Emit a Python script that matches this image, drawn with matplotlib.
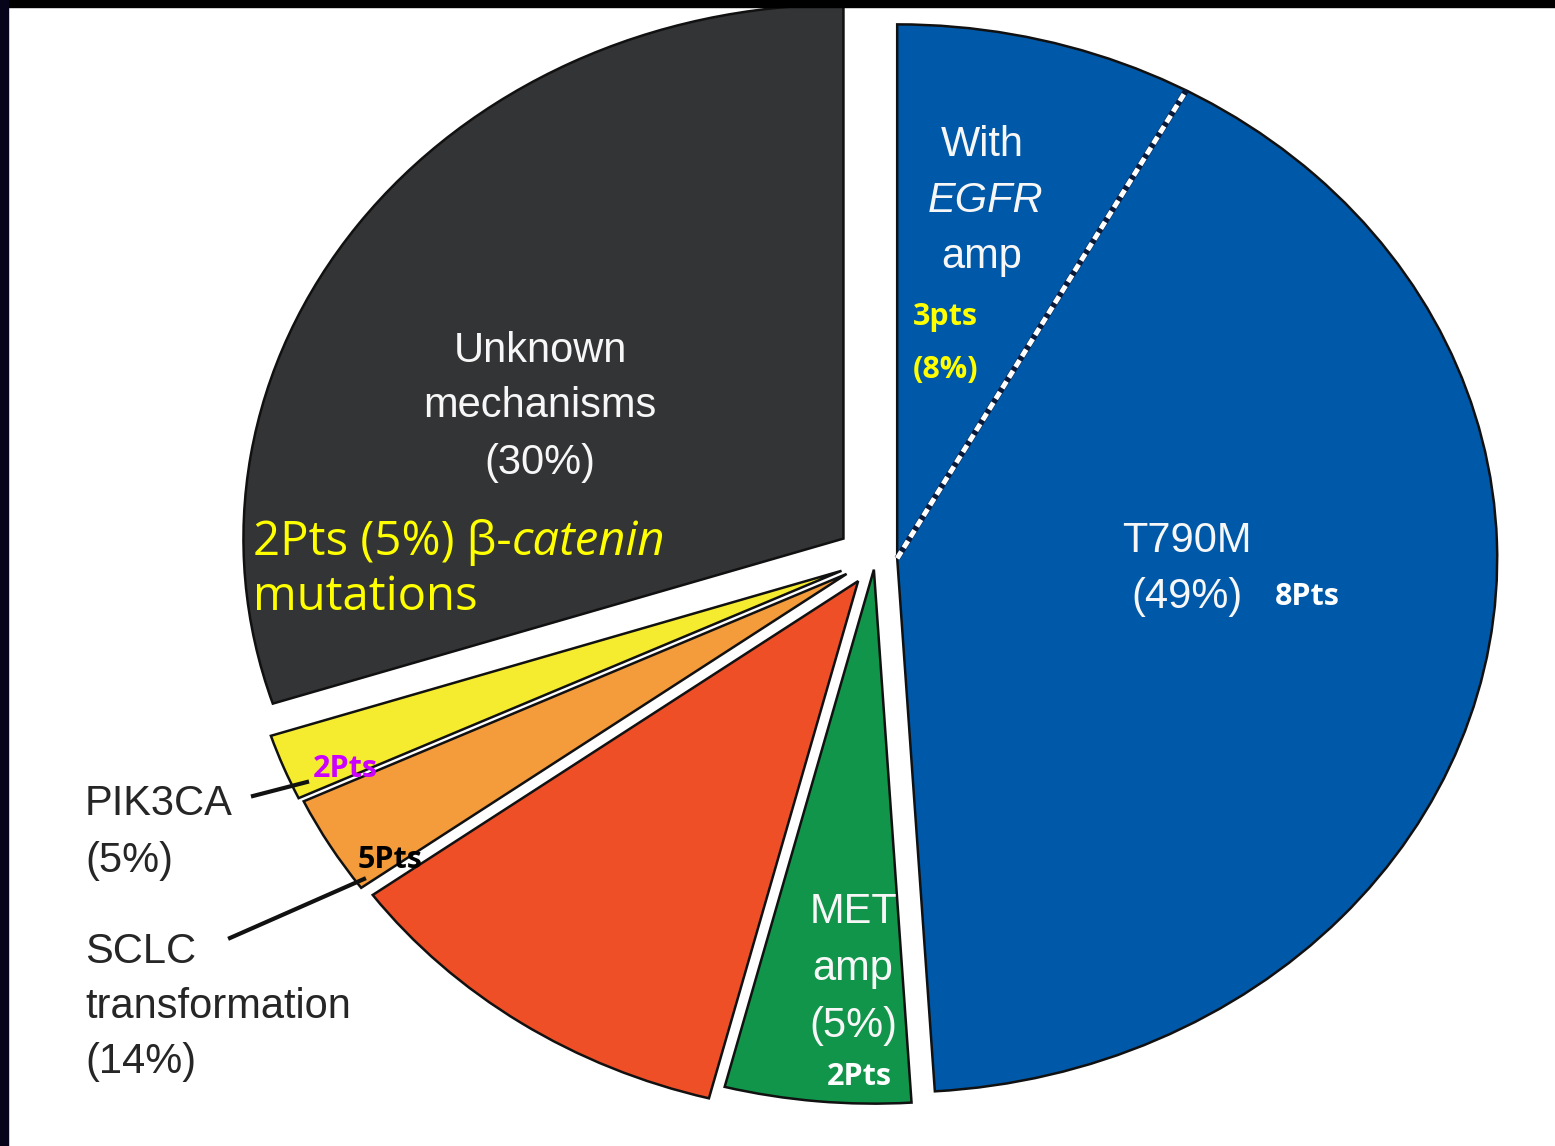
import matplotlib
matplotlib.use("Agg")
import matplotlib.pyplot as plt
from matplotlib.patches import Rectangle
from matplotlib.lines import Line2D
import numpy as np

# resistance mechanisms, % of patients (SCLC and PIK3CA overlap in 3%)
mechanisms = ["T790M", "MET amp", "SCLC transformation", "SCLC + PIK3CA",
              "PIK3CA", "Unknown mechanisms"]
shares = [49, 5, 11, 3, 2, 30]
egfr_amp_share = 8          # part of the T790M slice that also has EGFR amp
sclc_share = 14
pik3ca_share = 5
catenin_share = 5
patients = {"T790M": 8, "EGFR amp": 3, "MET amp": 2, "SCLC": 5,
            "PIK3CA": 2, "catenin": 2}

colors = ["#0058A8", "#10954A", "#EE4F27", "#F49B3B", "#F6EC2F", "#333436"]
explode = [0.037, 0.02, 0.05, 0.055, 0.06, 0.065]

W, H = 1555, 1146
cx, cy = 875, 559          # pie centre in pixels
rx, ry = 600, 534          # the pie is drawn slightly squashed

fig = plt.figure(figsize=(W / 100, H / 100), dpi=100)
fig.patch.set_facecolor("white")
ax = fig.add_axes([0, 0, 1, 1])

wedges, _ = ax.pie(shares, colors=colors, startangle=90, counterclock=False,
                   explode=explode, radius=1,
                   wedgeprops=dict(edgecolor="#111111", linewidth=1.8))
ax.set_aspect("auto")
ax.set_xlim(-cx / rx, (W - cx) / rx)
ax.set_ylim((cy - H) / ry, cy / ry)
ax.axis("off")

# dashed split inside the T790M slice for the EGFR amp cases
bx, by = wedges[0].center
ang = np.deg2rad(90 - 360 * egfr_amp_share / 100)
ax.plot([bx, bx + np.cos(ang)], [by, by + np.sin(ang)], color="#0a1a3a",
        lw=4.2, solid_capstyle="butt", zorder=3)
ax.plot([bx, bx + np.cos(ang)], [by, by + np.sin(ang)], color="white",
        lw=3.6, ls=(0, (1.6, 0.9)), zorder=4)


def at(x, y):
    return x / W, 1 - y / H


label_font = dict(family=["Liberation Sans", "DejaVu Sans"], fontsize=30)
pts_font = dict(family=["Open Sans", "DejaVu Sans"], fontsize=22,
                fontweight="bold")

# white labels inside the slices
for txt, x, y in [("Unknown", 540, 362), ("mechanisms", 540, 417),
                  ("(30%)", 540, 474),
                  ("T790M", 1187, 552), (f"({shares[0]}%)", 1187, 608),
                  ("MET", 853, 923), ("amp", 853, 980),
                  (f"({shares[1]}%)", 853, 1037),
                  ("With", 982, 156), ("amp", 982, 268)]:
    fig.text(*at(x, y), txt, ha="center", va="baseline", color="#F7F7F7",
             **label_font)
fig.text(*at(985, 212), "EGFR", ha="center", va="baseline", color="#F7F7F7",
         style="italic", **label_font)

# labels outside the pie
for txt, x, y in [("PIK3CA", 85, 815), (f"({pik3ca_share}%)", 85, 872),
                  ("SCLC", 85, 963), ("transformation", 85, 1018),
                  (f"({sclc_share}%)", 85, 1073)]:
    fig.text(*at(x, y), txt, ha="left", va="baseline", color="#262626",
             **label_font)

for (x0, y0), (x1, y1) in [((253, 796), (307, 782)), ((230, 938), (364, 879))]:
    fig.add_artist(Line2D([x0 / W, x1 / W], [1 - y0 / H, 1 - y1 / H],
                          transform=fig.transFigure, color="#111111", lw=3))

# patient counts
fig.text(*at(913, 325), f"{patients['EGFR amp']}pts", color="#FFFF00",
         ha="left", va="baseline", **pts_font)
fig.text(*at(913, 378), f"({egfr_amp_share}%)", color="#FFFF00",
         ha="left", va="baseline", **pts_font)
fig.text(*at(1275, 605), f"{patients['T790M']}Pts", color="white",
         ha="left", va="baseline", **pts_font)
fig.text(*at(827, 1085), f"{patients['MET amp']}Pts", color="white",
         ha="left", va="baseline", **pts_font)
fig.text(*at(313, 777), f"{patients['PIK3CA']}Pts", color="#CC00FF",
         ha="left", va="baseline", **pts_font)
fig.text(*at(358, 868), f"{patients['SCLC']}Pts", color="black",
         ha="left", va="baseline", **pts_font)

# beta-catenin note on the unknown slice
cat_font = dict(family=["Open Sans", "DejaVu Sans"], fontsize=34,
                color="#FFFF00")
t1 = fig.text(*at(253, 555), f"{patients['catenin']}Pts ({catenin_share}%) β-",
              ha="left", va="baseline", **cat_font)
ax.annotate("catenin", xy=(1, 0), xycoords=t1, ha="left", va="bottom",
            style="italic", **cat_font)
fig.text(*at(253, 610), "mutations", ha="left", va="baseline", **cat_font)

# dark frame along the top and left edges
fig.add_artist(Rectangle((0, 1 - 7 / H), 1, 7 / H, transform=fig.transFigure,
                         color="black", zorder=10))
fig.add_artist(Rectangle((0, 0), 8 / W, 1, transform=fig.transFigure,
                         color="#05041a", zorder=10))

fig.savefig("out.png", dpi=100)
